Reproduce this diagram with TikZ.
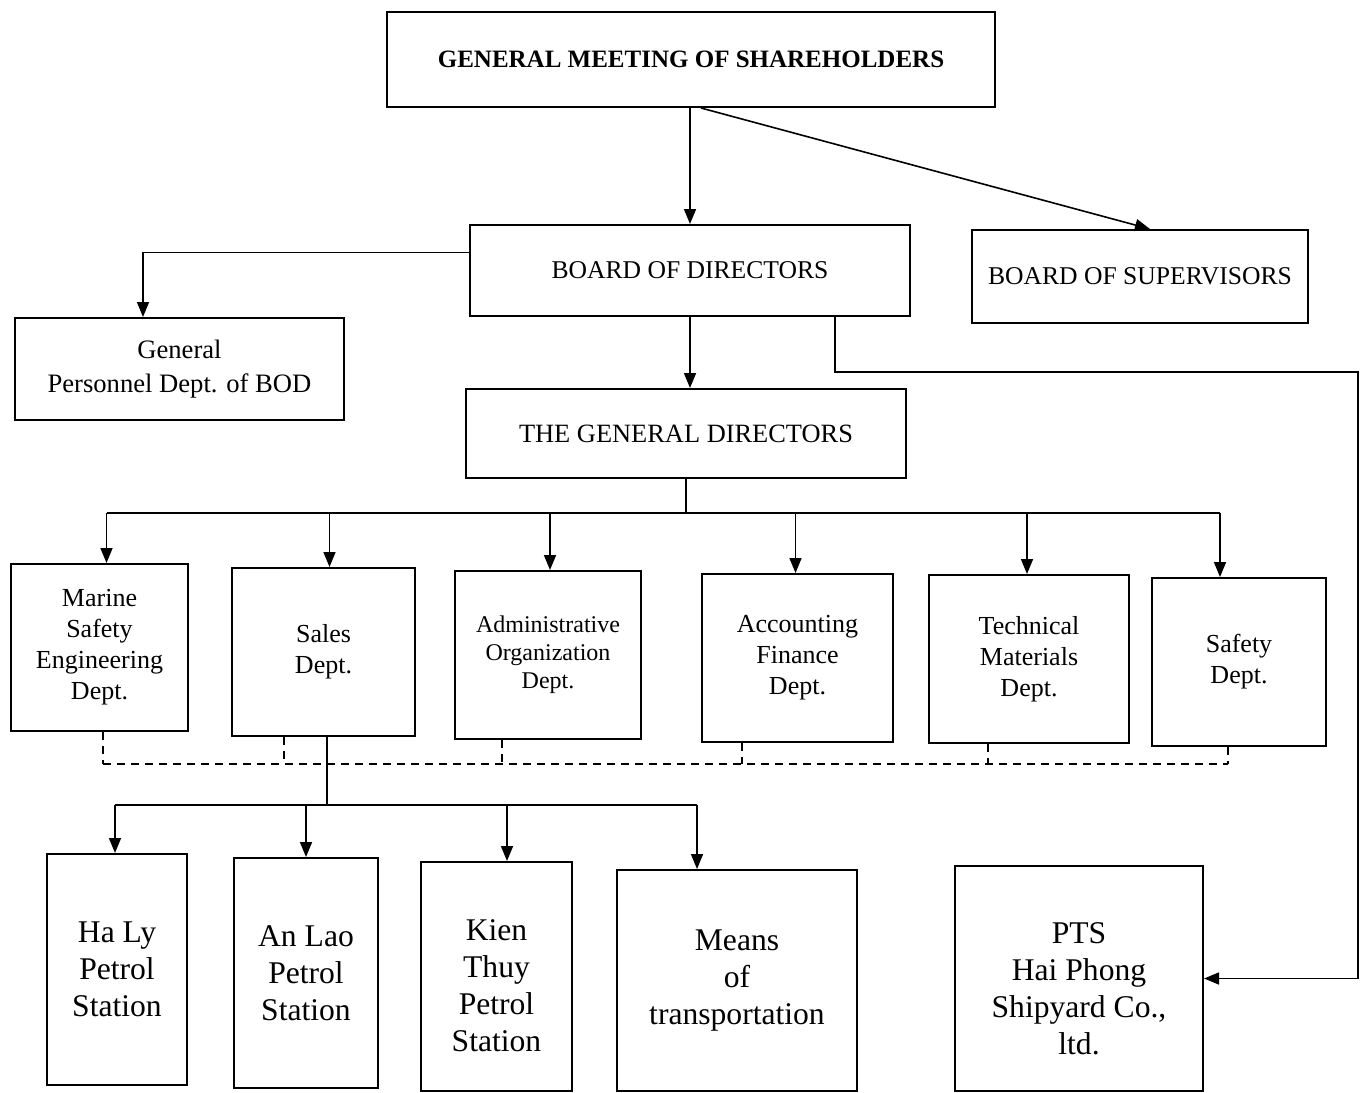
\documentclass[tikz,border=0pt]{standalone}
\usepackage{fontspec}
\setmainfont{Liberation Serif}
\usepackage{tikz}
\usetikzlibrary{shapes,arrows.meta,positioning,calc}

\begin{document}
\begin{tikzpicture}[
    x=0.5pt, y=-0.5pt,
    box/.style={rectangle, draw, line width=1pt, align=center, inner sep=2pt},
    head/.style={box, font=\fontsize{12.8}{15}\selectfont},
    dept/.style={box, minimum height=84pt, font=\fontsize{13}{15.5}\selectfont},
    unit/.style={box, font=\fontsize{15.8}{18.5}\selectfont},
    arrow/.style={-{Triangle[length=7.5pt,width=6pt]}, line width=0.8pt},
    link/.style={line width=0.8pt},
    dline/.style={line width=0.8pt, dash pattern=on 4pt off 3pt}
]
    \useasboundingbox (0,0) rectangle (1361,1093);

    \node[head, minimum width=304pt, minimum height=47.5pt, font=\fontsize{12.5}{15}\selectfont\bfseries] (gms) at (691,59.5) {GENERAL MEETING OF SHAREHOLDERS};
    \node[head, minimum width=220pt, minimum height=45.5pt] (bod) at (690,270.5) {BOARD OF DIRECTORS};
    \node[head, minimum width=168pt, minimum height=46.5pt] (bos) at (1140,276.5) {BOARD OF SUPERVISORS};
    \node[head, minimum width=164.5pt, minimum height=51pt, font=\fontsize{13.3}{17}\selectfont] (gpd) at (179.5,369) {General\\Personnel Dept. of BOD};
    \node[head, minimum width=220pt, minimum height=44.5pt, font=\fontsize{13.2}{15}\selectfont] (tgd) at (686,433.5) {THE GENERAL DIRECTORS};

    \node[dept, minimum width=88.5pt, minimum height=83.5pt] (mar) at (99.5,647.5) {Marine\\Safety\\Engineering\\Dept.};
    \node[dept, minimum width=91.5pt] (sal) at (323.5,652) {Sales\\Dept.};
    \node[dept, minimum width=93pt, font=\fontsize{12}{14}\selectfont] (adm) at (548,655) {Administrative\\Organization\\Dept.};
    \node[dept, minimum width=95.5pt] (acc) at (797.5,658) {Accounting\\Finance\\Dept.};
    \node[dept, minimum width=100pt] (tec) at (1029,659) {Technical\\Materials\\Dept.};
    \node[dept, minimum width=87pt] (saf) at (1239,662) {Safety\\Dept.};

    \node[unit, minimum width=70pt, minimum height=115.5pt] (hal) at (117,969.5) {Ha Ly\\Petrol\\Station};
    \node[unit, minimum width=72pt, minimum height=115pt] (anl) at (306,973) {An Lao\\Petrol\\Station};
    \node[unit, minimum width=75.5pt, minimum height=114.5pt, text height=75pt] (kie) at (496.5,976.5) {Kien\\Thuy\\Petrol\\Station};
    \node[unit, minimum width=120pt, minimum height=110.5pt] (mea) at (737,980.5) {Means\\of\\transportation};
    \node[unit, minimum width=124pt, minimum height=112.5pt, text height=76pt] (pts) at (1079,978.5) {PTS\\Hai Phong\\Shipyard Co.,\\ltd.};

    \coordinate (rt) at (1358,372);
    \coordinate (dbus) at (0,513);
    \coordinate (dbot) at (0,764);
    \coordinate (sbus) at (0,805);

    \draw[arrow] (bod.north |- gms.south) -- (bod.north);
    \draw[arrow] ($(gms.south)+(5pt,0)$) -- ($(bos.north)+(5pt,0)$);
    \draw[arrow] ($(bod.west)+(0,9pt)$) -| ($(gpd.north)+(-18.25pt,0)$);
    \draw[arrow] (bod.south) -- (bod.south |- tgd.north);
    \draw[arrow] ($(bod.south)+(72.5pt,0)$) |- (rt) |- (pts.east);

    \draw[link] (tgd.south) -- (tgd.south |- dbus);
    \draw[link] ($(mar.north |- dbus)+(3.5pt,0)$) -- ($(saf.north |- dbus)+(-9.5pt,0)$);
    \foreach \d/\s in {mar/3.5,sal/3,adm/1,acc/-1,tec/-1,saf/-9.5}
        \draw[arrow] ($(\d.north |- dbus)+(\s*1pt,0)$) -- ($(\d.north)+(\s*1pt,0)$);

    \foreach \d/\s in {mar/1.75,sal/-19.75,adm/-23,acc/-27.75,tec/-20.5,saf/-5.5}
        \draw[dline] ($(\d.south)+(\s*1pt,0)$) -- ($(\d.south |- dbot)+(\s*1pt,0)$);
    \draw[dline] ($(mar.south |- dbot)+(1.75pt,0)$) -- ($(saf.south |- dbot)+(-5.5pt,0)$);

    \draw[link] ($(sal.south)+(1.75pt,0)$) -- ($(sal.south |- sbus)+(1.75pt,0)$);
    \draw[link] ($(hal.north |- sbus)+(-1pt,0)$) -- ($(mea.north |- sbus)+(-20pt,0)$);
    \foreach \d/\s in {hal/-1,anl/0,kie/5.25,mea/-20}
        \draw[arrow] ($(\d.north |- sbus)+(\s*1pt,0)$) -- ($(\d.north)+(\s*1pt,0)$);
\end{tikzpicture}
\end{document}
